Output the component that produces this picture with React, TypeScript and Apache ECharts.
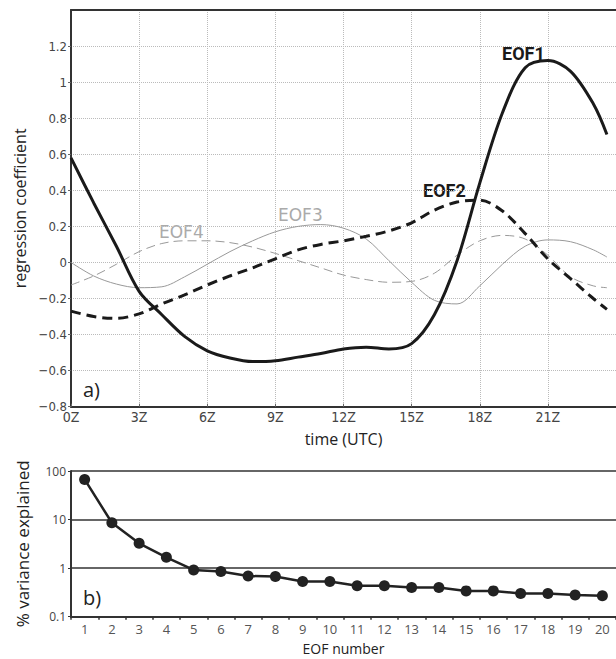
import React, { useEffect, useRef } from "react";
import * as echarts from "echarts";

// Hour of day (UTC) at which the regression coefficients are sampled
const hours = [0, 1, 2, 3, 4, 5, 6, 7, 8, 9, 10, 11, 12, 13, 14, 15, 16, 17, 18, 19, 20, 21, 22, 23, 23.6];

const eof1 = [0.58, 0.33, 0.09, -0.16, -0.29, -0.41, -0.49, -0.53, -0.55, -0.545, -0.525, -0.505, -0.48, -0.47, -0.48, -0.45, -0.29, 0.01, 0.44, 0.83, 1.08, 1.12, 1.06, 0.88, 0.71];
const eof2 = [-0.27, -0.3, -0.31, -0.285, -0.23, -0.18, -0.125, -0.075, -0.03, 0.02, 0.07, 0.1, 0.12, 0.145, 0.175, 0.22, 0.29, 0.335, 0.345, 0.285, 0.16, 0.02, -0.09, -0.2, -0.26];
const eof3 = [0.0, -0.075, -0.12, -0.14, -0.135, -0.08, -0.01, 0.06, 0.12, 0.17, 0.2, 0.21, 0.19, 0.13, 0.01, -0.11, -0.21, -0.23, -0.13, -0.01, 0.09, 0.125, 0.115, 0.07, 0.03];
const eof4 = [-0.125, -0.075, -0.01, 0.06, 0.105, 0.12, 0.12, 0.11, 0.085, 0.05, 0.01, -0.03, -0.07, -0.095, -0.11, -0.105, -0.06, 0.04, 0.12, 0.15, 0.13, 0.04, -0.08, -0.13, -0.14];

// Percent variance explained by each EOF
const eofNumbers = ["1", "2", "3", "4", "5", "6", "7", "8", "9", "10", "11", "12", "13", "14", "15", "16", "17", "18", "19", "20"];
const varianceExplained = [67, 8.6, 3.25, 1.67, 0.92, 0.85, 0.69, 0.67, 0.53, 0.53, 0.435, 0.435, 0.4, 0.4, 0.34, 0.34, 0.3, 0.3, 0.28, 0.27];

const pairs = (ys: number[]) => hours.map((h, i) => [h, ys[i]]);

const sans = "'Open Sans', 'Noto Sans', sans-serif";
const narrow = "'Liberation Sans Narrow', 'DejaVu Sans Condensed', 'Roboto', sans-serif";
const SMOOTH = 0.33;

export default function App() {
  const ref = useRef<HTMLDivElement>(null);

  useEffect(() => {
    if (!ref.current) return;
    const chart = echarts.init(ref.current, null, { renderer: "svg" });

    const option: any = {
      animation: false,
      backgroundColor: "#ffffff",
      grid: [
        { left: 71, top: 10, right: -9.4, height: 396.7 },
        { left: 71, top: 471, right: -2.4, height: 145.7 },
      ],
      xAxis: [
        {
          type: "value",
          gridIndex: 0,
          min: 0,
          max: 24,
          interval: 3,
          name: "time (UTC)",
          nameLocation: "middle",
          nameGap: 24,
          nameTextStyle: { fontFamily: sans, fontSize: 16, color: "#222" },
          axisLine: { show: true, onZero: false, lineStyle: { color: "#333", width: 2 } },
          axisTick: { show: true, inside: true, length: 3, lineStyle: { color: "#666" } },
          axisLabel: {
            showMaxLabel: false,
            fontFamily: narrow,
            fontSize: 14,
            color: "#444",
            margin: 3,
            formatter: (v: number) => `${v}Z`,
          },
          splitLine: { show: true, lineStyle: { type: "dotted", color: "#bbb", width: 1 } },
        },
        {
          type: "value",
          gridIndex: 0,
          position: "top",
          min: 0,
          max: 24,
          axisLine: { show: true, onZero: false, lineStyle: { color: "#333", width: 2 } },
          axisTick: { show: false },
          axisLabel: { show: false },
          splitLine: { show: false },
        },
        {
          type: "category",
          gridIndex: 1,
          data: eofNumbers,
          boundaryGap: true,
          name: "EOF number",
          nameLocation: "middle",
          nameGap: 25,
          nameTextStyle: { fontFamily: sans, fontSize: 14, color: "#222" },
          axisLine: { show: true, onZero: false, lineStyle: { color: "#333", width: 2 } },
          axisTick: { show: true, interval: 0, length: 3, lineStyle: { color: "#333", width: 1.5 } },
          axisLabel: { interval: 0, fontFamily: sans, fontSize: 13, color: "#555", margin: 6 },
        },
      ],
      yAxis: [
        {
          type: "value",
          gridIndex: 0,
          min: -0.8,
          max: 1.4,
          interval: 0.2,
          name: "regression coefficient",
          nameLocation: "middle",
          nameGap: 41,
          nameRotate: 90,
          nameTextStyle: { fontFamily: sans, fontSize: 16, color: "#222" },
          axisLine: { show: true, onZero: false, lineStyle: { color: "#333", width: 2 } },
          axisTick: { show: true, length: 3, lineStyle: { color: "#666" } },
          axisLabel: {
            showMaxLabel: false,
            fontFamily: narrow,
            fontSize: 13,
            color: "#444",
            margin: 4,
            formatter: (v: number) => String(+v.toFixed(1)).replace("-", "\u2212"),
          },
          splitLine: { show: true, lineStyle: { type: "dotted", color: "#bbb", width: 1 } },
        },
        {
          type: "log",
          gridIndex: 1,
          logBase: 10,
          min: 0.1,
          max: 100,
          name: "% variance explained",
          nameLocation: "middle",
          nameGap: 40,
          nameRotate: 90,
          nameTextStyle: { fontFamily: sans, fontSize: 17, color: "#222" },
          axisLine: { show: true, onZero: false, lineStyle: { color: "#333", width: 2 } },
          axisTick: { show: true, length: 3, lineStyle: { color: "#333" } },
          axisLabel: {
            fontFamily: sans,
            fontSize: 12,
            color: "#444",
            margin: 5,
            formatter: (v: number) => (v >= 1 ? String(Math.round(v)) : String(+v.toFixed(1))),
          },
          splitLine: { show: true, lineStyle: { type: "solid", color: "#333", width: 1.5 } },
        },
      ],
      series: [
        {
          name: "EOF4",
          type: "line",
          xAxisIndex: 0,
          yAxisIndex: 0,
          data: pairs(eof4),
          smooth: SMOOTH,
          showSymbol: false,
          lineStyle: { color: "#999", width: 1, type: [9, 5] },
        },
        {
          name: "EOF3",
          type: "line",
          xAxisIndex: 0,
          yAxisIndex: 0,
          data: pairs(eof3),
          smooth: SMOOTH,
          showSymbol: false,
          lineStyle: { color: "#999", width: 1 },
        },
        {
          name: "EOF2",
          type: "line",
          xAxisIndex: 0,
          yAxisIndex: 0,
          data: pairs(eof2),
          smooth: SMOOTH,
          showSymbol: false,
          lineStyle: { color: "#1a1a1a", width: 3, type: [10, 6] },
        },
        {
          name: "EOF1",
          type: "line",
          xAxisIndex: 0,
          yAxisIndex: 0,
          data: pairs(eof1),
          smooth: SMOOTH,
          showSymbol: false,
          lineStyle: { color: "#1a1a1a", width: 3 },
        },
        {
          name: "variance",
          type: "line",
          xAxisIndex: 2,
          yAxisIndex: 1,
          data: varianceExplained,
          symbol: "circle",
          symbolSize: 11,
          itemStyle: { color: "#222" },
          lineStyle: { color: "#222", width: 2.5 },
        },
      ],
      graphic: [
        { type: "text", x: 83, y: 389, style: { text: "a)", font: `20px ${sans}`, fill: "#222", verticalAlign: "middle" } },
        { type: "text", x: 83, y: 597, style: { text: "b)", font: `20px ${sans}`, fill: "#222", verticalAlign: "middle" } },
        { type: "text", x: 502, y: 53, style: { text: "EOF1", font: `bold 18px Roboto, sans-serif`, fill: "#1a1a1a", verticalAlign: "middle" } },
        { type: "text", x: 423, y: 190, style: { text: "EOF2", font: `bold 18px Roboto, sans-serif`, fill: "#1a1a1a", verticalAlign: "middle" } },
        { type: "text", x: 278, y: 215, style: { text: "EOF3", font: `17px 'DejaVu Sans', sans-serif`, fill: "#aaa", verticalAlign: "middle" } },
        { type: "text", x: 159, y: 232, style: { text: "EOF4", font: `17px 'DejaVu Sans', sans-serif`, fill: "#aaa", verticalAlign: "middle" } },
      ],
    };

    chart.setOption(option);
    return () => chart.dispose();
  }, []);

  return <div ref={ref} style={{ position: "fixed", left: 0, top: 0, width: 616, height: 659 }} />;
}
